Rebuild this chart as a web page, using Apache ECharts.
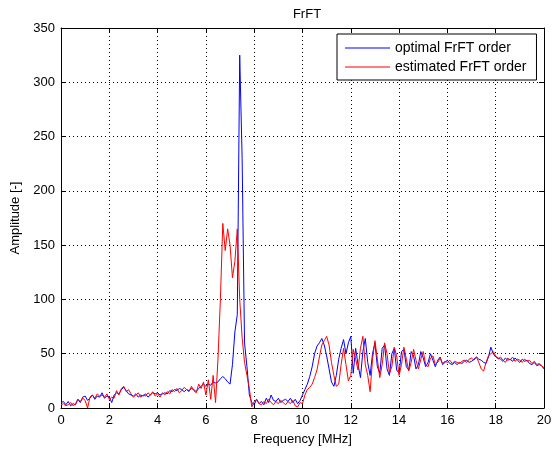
<!DOCTYPE html>
<html>
<head>
<meta charset="utf-8">
<script src="https://cdn.jsdelivr.net/npm/echarts@6/dist/echarts.min.js"></script>
<style>html,body{margin:0;padding:0;background:#fff;}#c{width:556px;height:452px;}</style>
</head>
<body>
<div id="c"></div>
<script>
var titleText = 'FrFT';
var xName = 'Frequency [MHz]';
var yName = 'Amplitude [-]';
var seriesNames = ['optimal FrFT order', 'estimated FrFT order'];
var xTicks = [0, 2, 4, 6, 8, 10, 12, 14, 16, 18, 20];
var yTicks = [0, 50, 100, 150, 200, 250, 300, 350];
var freqStep = 0.1;

var optimal = [
 5,6,3,6,2,4,3,8,5,10,
 11,7,9,12,8,11,10,14,9,11,
 10,5,12,14,13,17,19,16,13,12,
 11,13,10,12,11,13,10,12,14,13,
 14,12,13,14,13,16,15,17,16,18,
 17,15,17,16,18,17,15,18,20,22,
 20,22,21,24,23,24,27,29,27,24,
 22,40,70,86,325,230,60,38,12,5,
 3,8,4,6,3,9,5,12,7,6,
 9,5,7,8,6,9,5,8,4,7,
 12,17,22,29,38,50,57,60,64,58,
 48,36,24,20,30,45,55,63,50,60,
 66,32,55,40,28,52,64,42,30,50,
 60,38,32,55,58,36,30,50,55,35,
 32,52,54,38,35,52,48,36,40,52,
 46,38,42,50,44,38,44,47,40,42,
 44,41,40,42,40,42,41,43,44,42,
 43,45,47,45,44,42,41,47,56,50,
 47,46,45,43,46,44,45,43,46,44,
 42,45,43,44,41,40,42,39,40,39,
 36
];
var estimated = [
 3,4,2,3,5,2,4,8,6,9,
 7,0,10,12,9,13,11,12,10,13,
 8,10,9,16,12,18,20,15,17,13,
 10,12,14,10,12,11,14,12,15,11,
 13,10,14,12,15,13,17,15,18,14,
 16,19,17,15,20,16,14,22,18,24,
 12,26,8,30,5,45,100,170,145,165,
 150,120,135,165,100,65,42,30,18,1,
 6,8,4,3,6,4,8,5,3,6,
 4,7,5,3,6,4,7,2,1,5,
 4,12,17,19,22,28,35,47,58,62,
 66,58,42,30,20,22,40,55,40,25,
 30,54,45,35,55,66,40,30,15,45,
 62,45,28,40,60,50,32,38,56,48,
 30,40,56,45,34,42,54,44,36,45,
 52,40,38,46,48,40,42,46,41,43,
 42,44,41,43,42,41,43,44,42,45,
 46,44,47,42,36,34,42,48,50,52,
 48,45,47,44,42,46,44,47,43,45,
 44,42,45,43,44,41,43,40,41,39,
 37
];

function pairs(vals) {
  return vals.map(function (v, i) { return [Math.round(i * freqStep * 10) / 10, v]; });
}

var font = 'Liberation Sans, Arial, Helvetica, sans-serif';
var chart = echarts.init(document.getElementById('c'), null, {renderer: 'canvas'});
var xMin = xTicks[0], xMax = xTicks[xTicks.length - 1];
var yMin = yTicks[0], yMax = yTicks[yTicks.length - 1];
var xInt = xTicks[1] - xTicks[0], yInt = yTicks[1] - yTicks[0];

chart.setOption({
  animation: false,
  backgroundColor: '#fff',
  title: {
    text: titleText, left: 302, top: 3, textAlign: 'center',
    textStyle: {fontFamily: font, fontSize: 13, fontWeight: 'normal', color: '#000'}
  },
  legend: {
    show: true, orient: 'vertical', left: 337, top: 34,
    padding: [6, 10, 5, 8], itemWidth: 45, itemHeight: 1, itemGap: 3,
    icon: 'rect',
    borderColor: '#000', borderWidth: 1, backgroundColor: '#fff',
    textStyle: {fontFamily: font, fontSize: 14, color: '#000', lineHeight: 16},
    data: seriesNames
  },
  grid: {left: 61, right: 12, top: 28, bottom: 44, containLabel: false},
  xAxis: [{
    type: 'value', min: xMin, max: xMax, interval: xInt, position: 'bottom',
    name: xName, nameLocation: 'middle', nameGap: 25,
    nameTextStyle: {fontFamily: font, fontSize: 13, color: '#000'},
    axisLine: {show: true, onZero: false, lineStyle: {color: '#000', width: 1}},
    axisTick: {show: true, inside: true, length: 5, lineStyle: {color: '#000'}},
    axisLabel: {fontFamily: font, fontSize: 13, color: '#000', margin: 6},
    splitLine: {show: true, lineStyle: {color: '#000', type: [1, 3], width: 1}}
  }, {
    type: 'value', min: xMin, max: xMax, interval: xInt, position: 'top',
    axisLine: {show: true, onZero: false, lineStyle: {color: '#000', width: 1}},
    axisTick: {show: true, inside: true, length: 5, lineStyle: {color: '#000'}},
    axisLabel: {show: false}, splitLine: {show: false}
  }],
  yAxis: [{
    type: 'value', min: yMin, max: yMax, interval: yInt, position: 'left',
    name: yName, nameLocation: 'middle', nameGap: 33, nameRotate: 90,
    nameTextStyle: {fontFamily: font, fontSize: 13, color: '#000'},
    axisLine: {show: true, onZero: false, lineStyle: {color: '#000', width: 1}},
    axisTick: {show: true, inside: true, length: 5, lineStyle: {color: '#000'}},
    axisLabel: {fontFamily: font, fontSize: 13, color: '#000', margin: 6},
    splitLine: {show: true, lineStyle: {color: '#000', type: [1, 3], width: 1}}
  }, {
    type: 'value', min: yMin, max: yMax, interval: yInt, position: 'right',
    axisLine: {show: true, onZero: false, lineStyle: {color: '#000', width: 1}},
    axisTick: {show: true, inside: true, length: 5, lineStyle: {color: '#000'}},
    axisLabel: {show: false}, splitLine: {show: false}
  }],
  series: [{
    name: seriesNames[0], type: 'line', data: pairs(optimal),
    xAxisIndex: 0, yAxisIndex: 0, symbol: 'none', smooth: false,
    lineStyle: {color: '#0000ff', width: 1}, itemStyle: {color: '#0000ff'}
  }, {
    name: seriesNames[1], type: 'line', data: pairs(estimated),
    xAxisIndex: 0, yAxisIndex: 0, symbol: 'none', smooth: false,
    lineStyle: {color: '#ff0000', width: 1}, itemStyle: {color: '#ff0000'}
  }]
});
</script>
</body>
</html>
